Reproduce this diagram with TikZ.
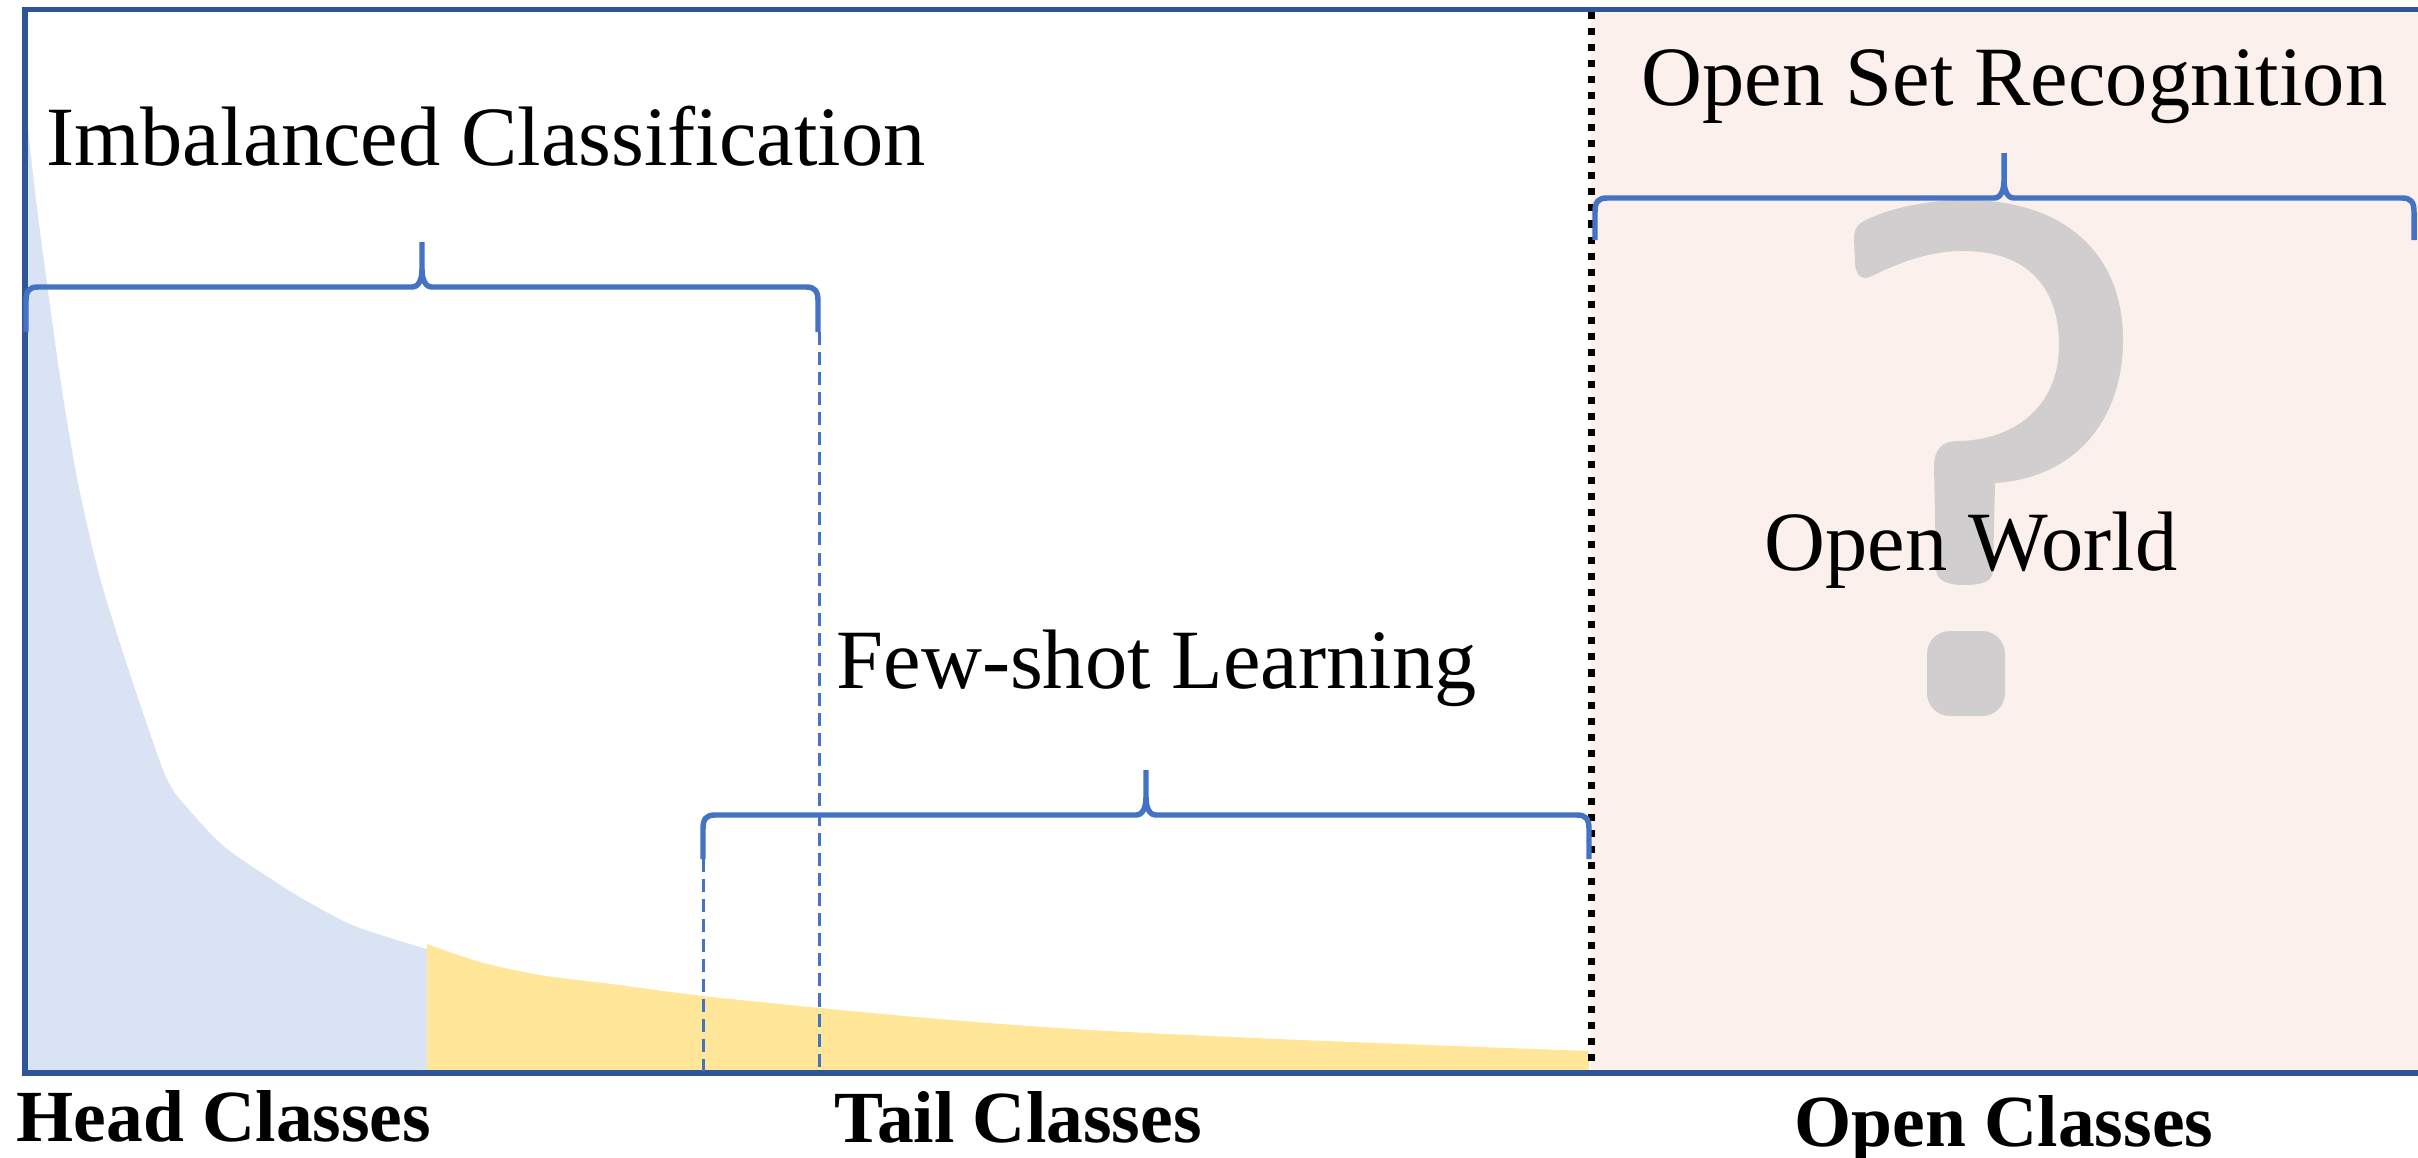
\documentclass[tikz,border=0pt]{standalone}
\usepackage{fontspec}
\setmainfont{Liberation Serif}
\definecolor{frameblue}{HTML}{2F5597}
\definecolor{braceblue}{HTML}{4472C4}
\definecolor{headfill}{HTML}{DAE3F3}
\definecolor{tailfill}{HTML}{FFE699}
\definecolor{openfill}{HTML}{FBF0EB}
\definecolor{qgray}{HTML}{D0CECE}
\newcommand\bracepath[6]{%
  (#1,#6) -- (#1,#4+14) .. controls (#1,#4+4) and (#1+3,#4) .. (#1+12,#4)
  -- (#3-10,#4) .. controls (#3-3,#4) and (#3,#4-8) .. (#3,#4-18) -- (#3,#5)
  (#3,#5) -- (#3,#4-18) .. controls (#3,#4-8) and (#3+3,#4) .. (#3+10,#4)
  -- (#2-12,#4) .. controls (#2-3,#4) and (#2,#4+4) .. (#2,#4+14) -- (#2,#6)}
\begin{document}
\begin{tikzpicture}[x=0.01cm,y=-0.01cm,
  framel/.style={draw=frameblue,line width=1.7pt},
  bracel/.style={draw=braceblue,line width=1.55pt,line join=round,line cap=butt},
  guide/.style={draw=braceblue,line width=0.85pt,dash pattern=on 3.7pt off 2pt},
  sepline/.style={draw=black,line width=2pt,dash pattern=on 2pt off 2.56pt},
  lbl/.style={inner sep=0pt,anchor=base west,font=\fontsize{24}{28}\selectfont},
  cls/.style={inner sep=0pt,anchor=base west,font=\bfseries\fontsize{20.9}{25}\selectfont}]
\useasboundingbox (0,0) rectangle (2418,1157);
% open world background
\fill[openfill] (1591,9) rectangle (2418,1073);
% head classes area
\fill[headfill] plot[smooth] coordinates {(25,100) (36,200) (48,291) (62,390) (78,483) (100,578) (130,674) (163,770) (177,796)}
  -- plot[smooth] coordinates {(177,796) (220,843) (268,877) (310,903) (357,927) (427,949)}
  -- (427,1073) -- (25,1073) -- cycle;
% tail classes area
\fill[tailfill] plot[smooth] coordinates {(427,944) (480,962) (540,975) (612,984)}
  -- plot[smooth] coordinates {(612,984) (703,996) (820,1008) (951,1020) (1091,1030) (1301,1040) (1589,1051)}
  -- (1589,1073) -- (427,1073) -- cycle;
% question mark
\fill[qgray] (1872,276) .. controls (1900,262) and (1930,251) .. (1963,251)
 .. controls (2030,251) and (2059,290) .. (2059,345)
 .. controls (2059,410) and (2010,441) .. (1957,441)
 .. controls (1942,441) and (1934,450) .. (1934,466)
 -- (1936,568)
 .. controls (1936,580) and (1946,585) .. (1964,585)
 .. controls (1984,585) and (1993,581) .. (1993,570)
 -- (1995,483)
 .. controls (2075,478) and (2123,420) .. (2123,340)
 .. controls (2123,250) and (2060,200) .. (1967,200)
 .. controls (1922,200) and (1885,210) .. (1864,221)
 .. controls (1856,225) and (1854,231) .. (1854,240)
 -- (1855,262)
 .. controls (1855,276) and (1863,281) .. (1872,276) -- cycle;
\fill[qgray,rounded corners=6.5pt] (1927,631) rectangle (2005,716);
% separator
\draw[sepline] (1591,12) -- (1591,1071);
% frame
\draw[framel] (2418,9.5) -- (25,9.5) -- (25,1073) -- (2418,1073);
% guide lines
\draw[guide] (819,332) -- (819,1071);
\draw[guide] (703,859) -- (703,1071);
% braces
\draw[bracel] \bracepath{26}{818}{422}{287}{242}{332};
\draw[bracel] \bracepath{703}{1589}{1146}{815}{770}{859};
\draw[bracel] \bracepath{1595}{2414}{2004}{198}{153}{240};
% labels
\node[lbl] (imb) at (46,165) {Imbalanced Classification};
\node[lbl] (osr) at (1641,105) {Open Set Recognition};
\node[lbl] (fsl) at (836,688) {Few-shot Learning};
\node[lbl] (ow) at (1764,570) {Open World};
\node[cls] (head) at (16,1141) {Head Classes};
\node[cls] (tail) at (834,1142) {Tail Classes};
\node[cls] (open) at (1794,1146) {Open Classes};
\end{tikzpicture}
\end{document}
